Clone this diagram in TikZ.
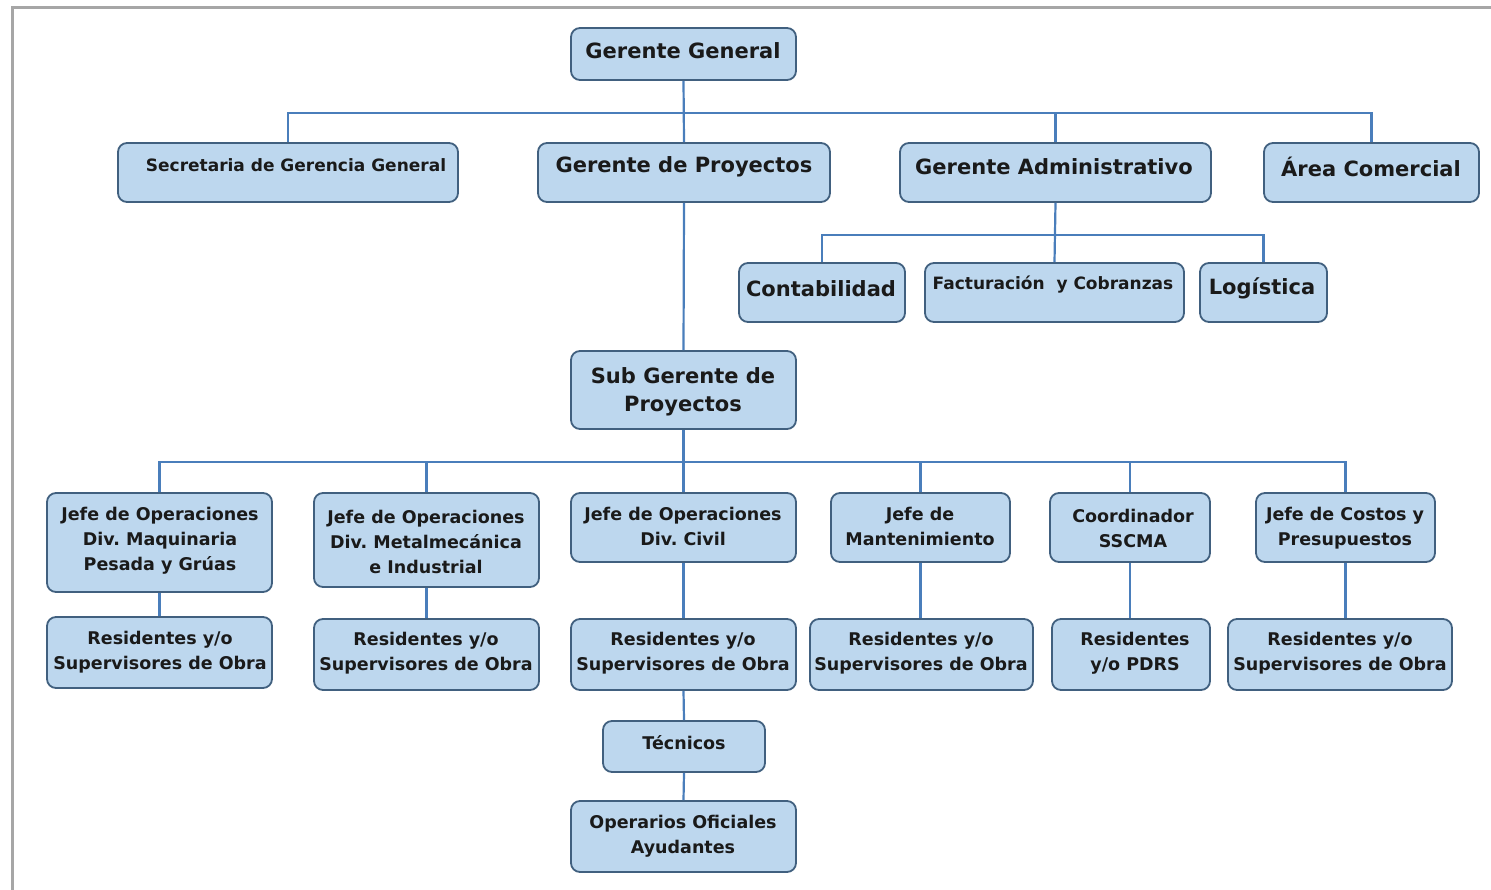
\documentclass[tikz,border=0pt]{standalone}
\usepackage{fontspec}
\setmainfont{DejaVu Sans}
\frenchspacing
\definecolor{boxfill}{HTML}{BDD7EE}
\definecolor{boxline}{HTML}{41607F}
\definecolor{wirecol}{HTML}{4A7EBB}
\definecolor{txtcol}{HTML}{1A1A1A}
\definecolor{framecol}{HTML}{A6A6A6}
% \orgbox{name}{x1}{y1}{x2}{y2}: rounded box between two corners (pixel-like units, y downwards)
\newcommand\orgbox[5]{%
  \node[orgshape, minimum width={(#4)-(#2)}, minimum height={(#5)-(#3)}]
    (#1) at ({((#2)+(#4))/2},{((#3)+(#5))/2}) {};}
\begin{document}
\begin{tikzpicture}[x=1pt,y=-1pt,
  orgshape/.style={draw=boxline, fill=boxfill, rounded corners=9pt, line width=1.8pt, inner sep=0pt},
  lbl/.style={font=\bfseries, text=txtcol, align=center, inner sep=0pt},
  big/.style={lbl, font=\bfseries\fontsize{21}{28}\selectfont},
  mid/.style={lbl, font=\bfseries\fontsize{17.5}{25}\selectfont},
  small/.style={lbl, font=\bfseries\fontsize{17}{20}\selectfont},
  wire/.style={draw=wirecol, line width=2.2pt}]
\useasboundingbox (0,0) rectangle (1491,890);
\draw[framecol, line width=3pt] (1491,7.5) -- (12.5,7.5) -- (12.5,890);

% top level
\orgbox{gg}{571}{28}{796}{80}
\orgbox{sec}{118}{143}{458}{202}
\orgbox{gp}{538}{143}{830}{202}
\orgbox{ga}{900}{143}{1211}{202}
\orgbox{ac}{1264}{143}{1479}{202}
% administration
\orgbox{con}{739}{263}{905}{322}
\orgbox{fac}{925}{263}{1184}{322}
\orgbox{log}{1200}{263}{1327}{322}
% projects
\orgbox{sg}{571}{351}{796}{429}
\orgbox{j1}{47}{493}{272}{592}
\orgbox{j2}{314}{493}{539}{587}
\orgbox{j3}{571}{493}{796}{562}
\orgbox{j4}{831}{493}{1010}{562}
\orgbox{j5}{1050}{493}{1210}{562}
\orgbox{j6}{1256}{493}{1435}{562}
\orgbox{r1}{47}{617}{272}{688}
\orgbox{r2}{314}{619}{539}{690}
\orgbox{r3}{571}{619}{796}{690}
\orgbox{r4}{810}{619}{1033}{690}
\orgbox{r5}{1052}{619}{1210}{690}
\orgbox{r6}{1228}{619}{1452}{690}
\orgbox{tec}{603}{721}{765}{772}
\orgbox{ope}{571}{801}{796}{872}

% labels
\node[big] (gg-t) at (683,51) {Gerente General};
\node[small] (sec-t) at (296,165) {Secretaria de Gerencia General};
\node[big] (gp-t) at (684,167) {Gerente de Proyectos};
\node[big] (ga-t) at (1054,167) {Gerente Administrativo};
\node[big] (ac-t) at (1371,167) {Área Comercial};
\node[big] (con-t) at (821,289) {Contabilidad};
\node[small] (fac-t) at (1053,285) {Facturación\ \ y Cobranzas};
\node[big] (log-t) at (1262,288) {Logística};
\node[big] (sg-t) at (683,392) {Sub Gerente de\\Proyectos};
\node[mid] (j1-t) at (160,541) {Jefe de Operaciones\\Div. Maquinaria\\Pesada y Grúas};
\node[mid] (j2-t) at (426,542) {Jefe de Operaciones\\Div. Metalmecánica\\e Industrial};
\node[mid] (j3-t) at (683,526) {Jefe de Operaciones\\Div. Civil};
\node[mid] (j4-t) at (920,526) {Jefe de\\Mantenimiento};
\node[mid] (j5-t) at (1133,528) {Coordinador\\SSCMA};
\node[mid] (j6-t) at (1345,528) {Jefe de Costos y\\Presupuestos};
\node[mid] (r1-t) at (160,652) {Residentes y/o\\Supervisores de Obra};
\node[mid] (r2-t) at (426,653) {Residentes y/o\\Supervisores de Obra};
\node[mid] (r3-t) at (683,653) {Residentes y/o\\Supervisores de Obra};
\node[mid] (r4-t) at (921,653) {Residentes y/o\\Supervisores de Obra};
\node[mid] (r5-t) at (1135,653) {Residentes\\y/o PDRS};
\node[mid] (r6-t) at (1340,653) {Residentes y/o\\Supervisores de Obra};
\node[mid] (tec-t) at (684,743) {Técnicos};
\node[mid] (ope-t) at (683,836) {Operarios Oficiales\\Ayudantes};

% connectors
\coordinate (busA) at (683,113);
\coordinate (busB) at (1054,235);
\coordinate (busC) at (683,462);
\draw[wire] (gg.south) -- (gp.north);
\draw[wire] (sec.north) |- (busA) -| (ac.north);
\draw[wire] (busA -| ga.north) -- (ga.north);
\draw[wire] (gp.south) -- (sg.north);
\draw[wire] (ga.south) -- (fac.north);
\draw[wire] (con.north) |- (busB) -| (log.north);
\draw[wire] (sg.south) -- (j3.north);
\draw[wire] (j1.north) |- (busC) -| (j6.north);
\draw[wire] (busC -| j2.north) -- (j2.north);
\draw[wire] (busC -| j4.north) -- (j4.north);
\draw[wire] (busC -| j5.north) -- (j5.north);
\draw[wire] (j1.south) -- (r1.north);
\draw[wire] (j2.south) -- (r2.north);
\draw[wire] (j3.south) -- (r3.north);
\draw[wire] (j4.south) -- (j4.south |- r4.north);
\draw[wire] (j5.south) -- (j5.south |- r5.north);
\draw[wire] (j6.south) -- (j6.south |- r6.north);
\draw[wire] (r3.south) -- (tec.north);
\draw[wire] (tec.south) -- (ope.north);
\end{tikzpicture}
\end{document}
